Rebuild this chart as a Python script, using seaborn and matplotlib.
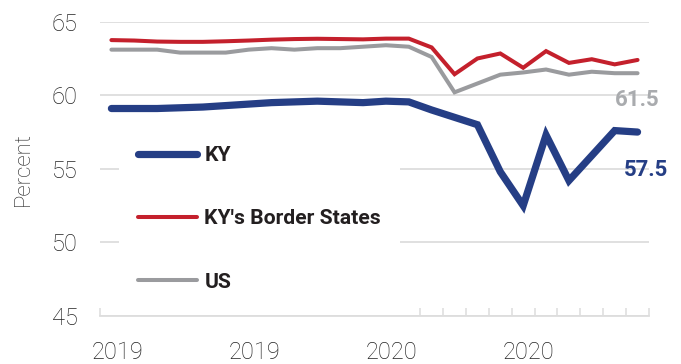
import matplotlib
matplotlib.use("Agg")
import matplotlib.pyplot as plt
import seaborn as sns
import pandas as pd
import numpy as np

# Monthly labor force participation rate, Jan 2019 - Dec 2020
months = pd.date_range("2019-01-01", periods=24, freq="MS").strftime("%Y-%m").tolist()
ky = [59.1, 59.1, 59.1, 59.15, 59.2, 59.3, 59.4, 59.5, 59.55, 59.6, 59.55, 59.5,
      59.6, 59.55, 59.0, 58.5, 58.0, 54.8, 52.5, 57.3, 54.2, 55.9, 57.6, 57.5]
border = [63.75, 63.72, 63.65, 63.63, 63.63, 63.67, 63.72, 63.78, 63.82, 63.84, 63.82, 63.8,
          63.85, 63.85, 63.25, 61.43, 62.5, 62.84, 61.87, 63.0, 62.2, 62.45, 62.1, 62.4]
us = [63.1, 63.1, 63.1, 62.9, 62.9, 62.9, 63.1, 63.2, 63.1, 63.2, 63.2, 63.3,
      63.4, 63.3, 62.6, 60.2, 60.8, 61.4, 61.55, 61.75, 61.4, 61.6, 61.5, 61.5]
series_names = ["KY", "KY's Border States", "US"]
year_labels = ["2019", "2019", "2020", "2020"]

colors = {"KY": "#253e85", "KY's Border States": "#c4202c", "US": "#9a9b9e"}
widths = {"KY": 5.2, "KY's Border States": 2.9, "US": 2.9}
text_color = "#222222"

df = pd.DataFrame({"month": months * 3,
                   "idx": list(range(24)) * 3,
                   "series": sum([[n] * 24 for n in series_names], []),
                   "value": ky + border + us})

sns.set_theme(style="white")
plt.rcParams["font.family"] = ["Roboto", "DejaVu Sans"]

fig = plt.figure(figsize=(6.81, 3.64), dpi=100)
ax = fig.add_axes([0.1468, 0.1319, 0.8062, 0.8085])

# draw the thinner series first so the KY line sits on top
for name in ["US", "KY's Border States", "KY"]:
    sub = df[df["series"] == name]
    sns.lineplot(data=sub, x="idx", y="value", ax=ax, color=colors[name],
                 linewidth=widths[name], label=name, solid_capstyle="round",
                 solid_joinstyle="miter", zorder=3 if name == "KY" else 2)

ax.set_xlim(-0.5, 23.5)
ax.set_ylim(45, 65)
ax.set_yticks([45, 50, 55, 60, 65])
ax.yaxis.grid(True, color="#dddddd", linewidth=1.3)
ax.set_axisbelow(True)
ax.tick_params(axis="y", length=0, pad=16, labelsize=17, labelcolor=text_color)
for lab in ax.get_yticklabels():
    lab.set_fontweight("light")

ax.set_xticks([0.25, 6.25, 12.25, 18.25])
ax.set_xticklabels(year_labels, fontsize=17, color=text_color, fontweight="light")
ax.tick_params(axis="x", which="major", length=0, pad=18)
ax.set_xticks(np.arange(-0.5, 13.0, 1.0), minor=True)
ax.tick_params(axis="x", which="minor", direction="in", length=1.8, width=1.1,
               color="#dddddd")
sec = ax.secondary_xaxis("bottom")
sec.set_xticks(np.r_[-0.5, np.arange(13.5, 24.0, 1.0)])
sec.set_xticklabels([])
sec.tick_params(direction="in", length=6, width=1.1, color="#dddddd")
sec.spines["bottom"].set_visible(False)

for side in ["top", "right", "left"]:
    ax.spines[side].set_visible(False)
ax.spines["bottom"].set_color("#dddddd")
ax.spines["bottom"].set_linewidth(1.3)

ax.set_xlabel("")
ax.set_ylabel("Percent", fontsize=16, color=text_color, fontweight="light")
ax.yaxis.set_label_coords(-0.12, 0.5)

# end-of-line value labels
ax.text(23, us[-1] - 1.84, f"{us[-1]:.1f}", ha="center", va="center",
        fontsize=16, fontweight="bold", color="#a9abae")
ax.text(23.37, ky[-1] - 2.57, f"{ky[-1]:.1f}", ha="center", va="center",
        fontsize=16, fontweight="bold", color="#253e85")

handles, labels = ax.get_legend_handles_labels()
order = [labels.index(n) for n in series_names]
leg = ax.legend([handles[i] for i in order], [labels[i] for i in order],
                loc="upper left", bbox_to_anchor=(119 / 681, 1 - 127 / 364),
                bbox_transform=fig.transFigure, frameon=True, fancybox=False,
                facecolor="white", edgecolor="none", framealpha=1,
                borderpad=0.9, borderaxespad=0, handlelength=2.8,
                handletextpad=0.35, labelspacing=2.1,
                prop={"size": 15.2, "weight": "bold"})
for t in leg.get_texts():
    t.set_color("#231f20")
leg.set_zorder(5)

fig.savefig("out.png", dpi=100)
